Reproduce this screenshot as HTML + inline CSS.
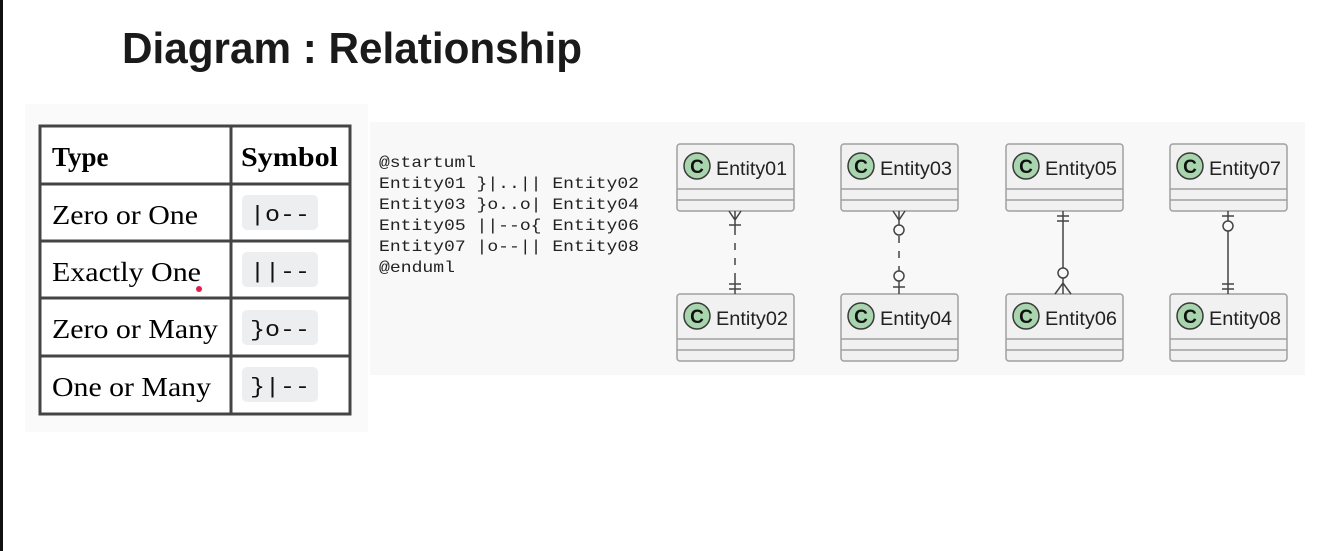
<!DOCTYPE html>
<html><head><meta charset="utf-8"><style>
html,body{margin:0;padding:0;background:#fff;}
svg{display:block;}
</style></head><body>
<svg width="1324" height="551" viewBox="0 0 1324 551" xmlns="http://www.w3.org/2000/svg">
<rect x="0" y="0" width="1324" height="551" fill="#fff"/>
<rect x="0" y="0" width="3" height="551" fill="#111"/>
<text x="122" y="63" font-family="Liberation Sans, sans-serif" font-weight="bold" font-size="44" fill="#1a1a1a" textLength="460" lengthAdjust="spacingAndGlyphs">Diagram : Relationship</text>

<rect x="25" y="104" width="343" height="328" fill="#fafafa"/>
<g font-family="Liberation Serif, serif" fill="#000">
<rect x="40" y="126" width="310" height="288" fill="#fff" stroke="#444" stroke-width="3"/>
<line x1="231" y1="126" x2="231" y2="414" stroke="#444" stroke-width="3"/>
<line x1="40" y1="184" x2="350" y2="184" stroke="#444" stroke-width="3"/>
<line x1="40" y1="241" x2="350" y2="241" stroke="#444" stroke-width="3"/>
<line x1="40" y1="298" x2="350" y2="298" stroke="#444" stroke-width="3"/>
<line x1="40" y1="356" x2="350" y2="356" stroke="#444" stroke-width="3"/>
<text x="52" y="166" font-size="27" font-weight="bold">Type</text>
<text x="241" y="166" font-size="27" font-weight="bold" textLength="97" lengthAdjust="spacingAndGlyphs">Symbol</text>
<text x="52" y="224" font-size="27" textLength="146" lengthAdjust="spacingAndGlyphs">Zero or One</text>
<text x="52" y="281" font-size="27" textLength="149" lengthAdjust="spacingAndGlyphs">Exactly One</text>
<text x="52" y="338" font-size="27" textLength="166" lengthAdjust="spacingAndGlyphs">Zero or Many</text>
<text x="52" y="396" font-size="27" textLength="159" lengthAdjust="spacingAndGlyphs">One or Many</text>
<circle cx="199" cy="289" r="3" fill="#e0204a"/>
</g>
<g font-family="Liberation Mono, monospace" font-size="22" fill="#111">
<rect x="242" y="195" width="76" height="35" rx="5" fill="#eceef0"/>
<rect x="242" y="252" width="76" height="35" rx="5" fill="#eceef0"/>
<rect x="242" y="310" width="76" height="35" rx="5" fill="#eceef0"/>
<rect x="242" y="367" width="76" height="35" rx="5" fill="#eceef0"/>
<text x="250" y="221" textLength="60" lengthAdjust="spacingAndGlyphs">|o--</text>
<text x="250" y="278" textLength="60" lengthAdjust="spacingAndGlyphs">||--</text>
<text x="250" y="336" textLength="60" lengthAdjust="spacingAndGlyphs">}o--</text>
<text x="250" y="393" textLength="60" lengthAdjust="spacingAndGlyphs">}|--</text>
</g>

<rect x="370" y="122" width="935" height="253" fill="#f8f8f8"/>
<g font-family="Liberation Mono, monospace" font-size="16" fill="#222">
<text x="379" y="167" textLength="97" lengthAdjust="spacingAndGlyphs">@startuml</text>
<text x="379" y="188" textLength="260" lengthAdjust="spacingAndGlyphs">Entity01 }|..|| Entity02</text>
<text x="379" y="209" textLength="260" lengthAdjust="spacingAndGlyphs">Entity03 }o..o| Entity04</text>
<text x="379" y="230" textLength="260" lengthAdjust="spacingAndGlyphs">Entity05 ||--o{ Entity06</text>
<text x="379" y="251" textLength="260" lengthAdjust="spacingAndGlyphs">Entity07 |o--|| Entity08</text>
<text x="379" y="272" textLength="76" lengthAdjust="spacingAndGlyphs">@enduml</text>
</g>

<defs>
<g id="box">
<rect x="0" y="0" width="117" height="67" rx="3" fill="#f1f1f1" stroke="#a0a0a0" stroke-width="1.5"/>
<line x1="0" y1="45" x2="117" y2="45" stroke="#a0a0a0" stroke-width="1.5"/>
<line x1="0" y1="56" x2="117" y2="56" stroke="#a0a0a0" stroke-width="1.5"/>
<circle cx="20" cy="22" r="13" fill="#a8d5ae" stroke="#3a3a3a" stroke-width="1.5"/>
<text x="20" y="29" text-anchor="middle" font-family="Liberation Sans, sans-serif" font-weight="bold" font-size="19" fill="#111">C</text>
</g>
</defs>
<g font-family="Liberation Sans, sans-serif" font-size="19" fill="#222">
<use href="#box" x="677" y="144"/><text x="716" y="175" textLength="71" lengthAdjust="spacingAndGlyphs">Entity01</text>
<use href="#box" x="677" y="294"/><text x="716" y="325" textLength="72" lengthAdjust="spacingAndGlyphs">Entity02</text>
<use href="#box" x="841" y="144"/><text x="880" y="175" textLength="72" lengthAdjust="spacingAndGlyphs">Entity03</text>
<use href="#box" x="841" y="294"/><text x="880" y="325" textLength="72" lengthAdjust="spacingAndGlyphs">Entity04</text>
<use href="#box" x="1006" y="144"/><text x="1045" y="175" textLength="72" lengthAdjust="spacingAndGlyphs">Entity05</text>
<use href="#box" x="1006" y="294"/><text x="1045" y="325" textLength="72" lengthAdjust="spacingAndGlyphs">Entity06</text>
<use href="#box" x="1170" y="144"/><text x="1209" y="175" textLength="72" lengthAdjust="spacingAndGlyphs">Entity07</text>
<use href="#box" x="1170" y="294"/><text x="1209" y="325" textLength="72" lengthAdjust="spacingAndGlyphs">Entity08</text>
</g>

<g stroke="#444" stroke-width="1.5" fill="none">
<path d="M729 211 L735 220 L741 211 M735 211 L735 228 M729 225 L741 225"/>
<line x1="735" y1="228" x2="735" y2="284" stroke-dasharray="7,8"/>
<path d="M735 280 L735 294 M729 284 L741 284 M729 289 L741 289"/>
<path d="M893 211 L899 220 L905 211 M899 211 L899 225"/>
<circle cx="899" cy="230" r="5"/>
<line x1="899" y1="236" x2="899" y2="271" stroke-dasharray="7,8"/>
<circle cx="899" cy="276" r="5"/>
<path d="M899 281 L899 294 M893 287 L905 287"/>
<path d="M1063 211 L1063 268 M1057 216 L1069 216 M1057 221 L1069 221"/>
<circle cx="1063" cy="273" r="5"/>
<path d="M1063 278 L1063 294 M1055 294 L1063 283 L1071 294"/>
<path d="M1228 211 L1228 221 M1222 216 L1234 216"/>
<circle cx="1228" cy="226" r="5"/>
<path d="M1228 231 L1228 294 M1222 284 L1234 284 M1222 289 L1234 289"/>
</g>
</svg>
</body></html>
